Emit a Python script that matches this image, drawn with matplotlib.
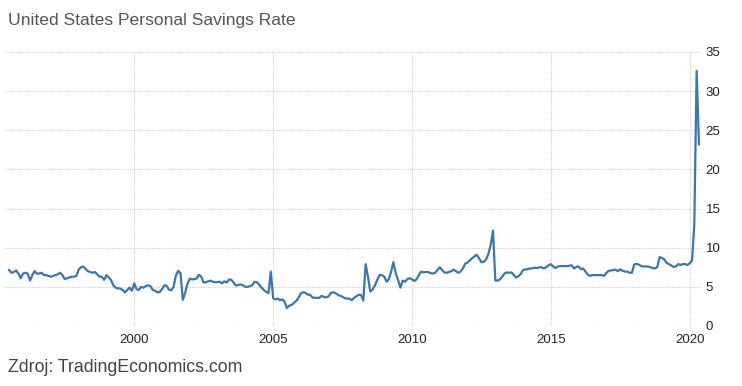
import matplotlib
matplotlib.use("Agg")
import matplotlib.pyplot as plt
from matplotlib import font_manager
import pandas as pd

# ---- data -------------------------------------------------------------
title = "United States Personal Savings Rate"
source = "Zdroj: TradingEconomics.com"
start_month = "1995-07-01"
savings_rate = [
    7.15, 6.8, 6.9, 7.1, 6.7, 6.1, 6.7, 6.8, 6.7, 5.8, 6.5, 7.0,        # Jul95-Jun96
    6.7, 6.7, 6.8, 6.5, 6.5, 6.4, 6.3, 6.4, 6.5, 6.6, 6.8, 6.5,         # Jul96-Jun97
    6.0, 6.1, 6.2, 6.3, 6.3, 6.4, 7.2, 7.5, 7.6, 7.3, 7.0, 6.9,         # Jul97-Jun98
    6.8, 6.9, 6.6, 6.3, 6.3, 5.9, 6.5, 6.2, 5.9, 5.2, 4.9, 4.8,         # Jul98-Jun99
    4.8, 4.6, 4.3, 4.6, 4.9, 4.5, 5.45, 4.7, 4.6, 5.0, 4.9, 5.1,        # Jul99-Jun00
    5.2, 5.1, 4.6, 4.5, 4.3, 4.35, 4.7, 5.2, 5.15, 4.65, 4.55, 5.0,     # Jul00-Jun01
    6.4, 7.05, 6.75, 3.35, 4.25, 5.35, 6.05, 5.95, 6.0, 6.05, 6.55, 6.3,  # Jul01-Jun02
    5.55, 5.6, 5.7, 5.8, 5.65, 5.6, 5.6, 5.65, 5.45, 5.7, 5.55, 5.95,   # Jul02-Jun03
    5.9, 5.55, 5.15, 5.25, 5.3, 5.2, 5.0, 5.0, 5.1, 5.2, 5.65, 5.6,     # Jul03-Jun04
    5.3, 4.9, 4.6, 4.35, 4.2, 6.95, 3.55, 3.4, 3.5, 3.3, 3.4, 3.1,      # Jul04-Jun05
    2.3, 2.6, 2.7, 2.95, 3.2, 3.6, 4.2, 4.3, 4.25, 4.0, 4.0, 3.65,      # Jul05-Jun06
    3.6, 3.6, 3.6, 3.85, 3.7, 3.65, 3.8, 4.25, 4.3, 4.2, 4.0, 3.85,     # Jul06-Jun07
    3.75, 3.55, 3.5, 3.5, 3.3, 3.6, 3.8, 4.0, 3.95, 3.25, 7.9, 6.3,     # Jul07-Jun08
    4.4, 4.65, 5.2, 5.9, 6.5, 6.5, 6.3, 5.66, 5.95, 6.9, 8.15, 6.75,    # Jul08-Jun09
    5.9, 4.9, 5.8, 5.65, 6.0, 6.1, 5.95, 5.75, 5.95, 6.5, 6.95, 6.85,   # Jul09-Jun10
    6.9, 6.9, 6.75, 6.7, 6.8, 7.15, 7.5, 7.15, 6.85, 6.8, 6.9, 7.0,     # Jul10-Jun11
    7.2, 7.0, 6.8, 6.95, 7.35, 7.95, 8.1, 8.4, 8.65, 8.9, 9.1, 8.65,    # Jul11-Jun12
    8.15, 8.2, 8.5, 9.2, 10.35, 12.2, 5.8, 5.8, 5.95, 6.3, 6.7, 6.85,   # Jul12-Jun13
    6.8, 6.85, 6.5, 6.2, 6.35, 6.65, 7.15, 7.25, 7.25, 7.35, 7.35, 7.45,  # Jul13-Jun14
    7.4, 7.5, 7.5, 7.35, 7.5, 7.75, 7.9, 7.6, 7.4, 7.6, 7.65, 7.65,     # Jul14-Jun15
    7.65, 7.65, 7.7, 7.75, 7.35, 7.55, 7.6, 7.25, 7.35, 6.95, 6.55, 6.4,  # Jul15-Jun16
    6.5, 6.5, 6.5, 6.5, 6.5, 6.4, 6.8, 7.05, 7.1, 7.15, 7.2, 7.0,       # Jul16-Jun17
    7.25, 7.05, 6.95, 6.95, 6.8, 6.8, 7.85, 7.95, 7.85, 7.65, 7.6, 7.6,   # Jul17-Jun18
    7.6, 7.5, 7.4, 7.35, 7.55, 8.8, 8.7, 8.5, 8.1, 7.9, 7.75, 7.55,     # Jul18-Jun19
    7.6, 7.9, 7.8, 7.9, 7.9, 7.8, 8.0, 8.4, 12.9, 32.6, 23.2,           # Jul19-May20
]
y_ticks = [0, 5, 10, 15, 20, 25, 30, 35]
x_tick_years = [2000, 2005, 2010, 2015, 2020]

# ---- fonts ------------------------------------------------------------
def pick(*names):
    for n in names:
        try:
            font_manager.findfont(n, fallback_to_default=False)
            return n
        except Exception:
            pass
    return "DejaVu Sans"

regular = pick("Liberation Sans", "DejaVu Sans")

# ---- figure -----------------------------------------------------------
dates = pd.date_range(start_month, periods=len(savings_rate), freq="MS")

fig = plt.figure(figsize=(7.42, 3.86), dpi=100)
ax = fig.add_axes([5 / 742, 60 / 386, 695 / 742, 274 / 386])

ax.plot(dates, savings_rate, color="#3a77ae", lw=1.6, solid_joinstyle="round",
        zorder=3, clip_on=False)

ax.set_ylim(0, 35)
ax.set_xlim(pd.Timestamp("1995-05-08"), pd.Timestamp("2020-05-15"))
ax.set_yticks(y_ticks)
ax.set_xticks([pd.Timestamp(f"{y}-01-01") for y in x_tick_years])
ax.set_xticklabels([str(y) for y in x_tick_years])

ax.yaxis.tick_right()
for s in ax.spines.values():
    s.set_visible(False)
ax.tick_params(axis="both", length=0, labelsize=9.5, colors="#222222")
ax.tick_params(axis="y", pad=4)
ax.tick_params(axis="x", pad=6)
for lab in ax.get_xticklabels() + ax.get_yticklabels():
    lab.set_fontfamily(regular)

ax.grid(True, which="major", linestyle=(0, (1, 1)), color="#cfcfcf", lw=0.8, zorder=0)

fig.text(8 / 742, 1 - 21 / 386, title, fontsize=12.6, family=regular, color="#555555",
         va="center", ha="left")
fig.text(8 / 742, 1 - 368 / 386, source, fontsize=12.8, family=regular, color="#444444",
         va="center", ha="left")

fig.savefig("out.png", dpi=100)
